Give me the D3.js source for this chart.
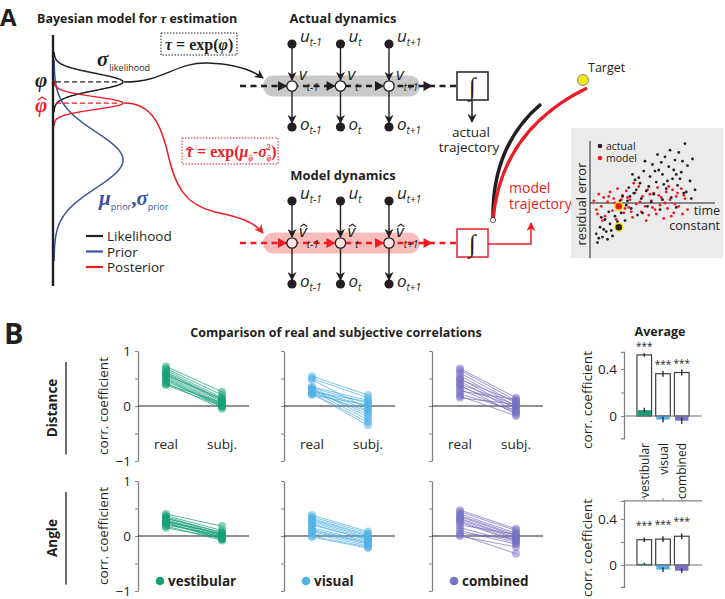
<!DOCTYPE html>
<meta charset="utf-8">
<script src="https://d3js.org/d3.v7.min.js"></script>
<style>
body { margin: 0; background: #fff; }
text { font-family: "Open Sans", sans-serif; fill: #231f20; white-space: pre; }
</style>
<svg id="fig" width="725" height="599"></svg>
<script>

// ---------------- data ----------------
var conditions = ["vestibular", "visual", "combined"];
var condColor = ["#17a078", "#4fb1e6", "#7870c2"];
var pairLabels = ["real", "subj."];

// panel B: per-subject correlation coefficients (real vs subjective)
var distRealVest = [0.72, 0.68, 0.65, 0.62, 0.60, 0.58, 0.56, 0.55, 0.52, 0.50, 0.48, 0.45, 0.42, 0.40, 0.38];
var distSubjVest = [0.26, 0.20, 0.15, 0.12, 0.10, 0.08, 0.13, 0.05, 0.03, 0.00, -0.02, 0.02, -0.05, 0.06, 0.00];
var distRealVis  = [0.54, 0.50, 0.48, 0.35, 0.33, 0.30, 0.28, 0.27, 0.25, 0.23, 0.22, 0.20, 0.30, 0.26, 0.32];
var distSubjVis  = [0.20, 0.15, -0.05, 0.10, 0.05, -0.15, 0.00, -0.25, -0.10, -0.30, -0.35, 0.02, -0.20, 0.08, -0.08];
var distRealComb = [0.68, 0.65, 0.60, 0.55, 0.50, 0.48, 0.45, 0.40, 0.38, 0.35, 0.30, 0.27, 0.22, 0.18, 0.15];
var distSubjComb = [0.15, 0.10, 0.05, 0.00, -0.05, 0.08, -0.10, 0.02, -0.15, -0.02, -0.12, 0.12, -0.08, -0.18, 0.03];
var angRealVest  = [0.40, 0.37, 0.35, 0.33, 0.30, 0.28, 0.27, 0.25, 0.22, 0.20, 0.18, 0.15, 0.32, 0.24, 0.26];
var angSubjVest  = [0.18, 0.10, 0.05, 0.02, 0.00, -0.03, 0.04, -0.05, -0.02, 0.01, -0.08, -0.04, 0.07, -0.06, 0.03];
var angRealVis   = [0.38, 0.35, 0.32, 0.30, 0.28, 0.25, 0.22, 0.15, 0.12, 0.08, 0.05, 0.00, -0.02, 0.20, 0.10];
var angSubjVis   = [0.08, 0.05, 0.02, 0.00, -0.03, -0.05, -0.08, -0.10, -0.12, -0.15, -0.18, -0.20, -0.22, -0.06, -0.13];
var angRealComb  = [0.47, 0.44, 0.40, 0.37, 0.35, 0.32, 0.30, 0.27, 0.25, 0.20, 0.15, 0.10, 0.05, 0.02, 0.00];
var angSubjComb  = [0.13, 0.10, 0.05, 0.02, 0.00, -0.03, -0.05, -0.08, -0.10, 0.03, -0.12, -0.15, -0.05, -0.32, -0.20];

// panel B: averages
var avgDistReal = [0.52, 0.36, 0.37];
var avgDistRealSE = [0.015, 0.025, 0.025];
var avgDistSubj = [0.05, -0.03, -0.04];
var avgDistSubjSE = [0.02, 0.025, 0.025];
var avgAngReal = [0.22, 0.225, 0.25];
var avgAngRealSE = [0.02, 0.025, 0.025];
var avgAngSubj = [0.01, -0.04, -0.05];
var avgAngSubjSE = [0.01, 0.02, 0.02];

// panel A inset: residual error vs time constant
var actualPts = [[0.5,-2.8],[0.6,-3.6],[0.8,-2.2],[1.0,-3.1],[1.2,-1.5],[1.3,-2.6],[1.5,-0.8],[1.6,-1.9],[1.8,-3.0],[2.0,-1.2],
  [2.1,-0.4],[2.3,-2.1],[2.5,-0.9],[2.6,0.6],[2.8,-1.6],[3.0,0.2],[3.1,1.4],[3.3,-0.5],[3.5,0.9],[3.6,2.1],[3.8,-1.1],[4.0,1.8],
  [4.1,0.4],[4.3,2.9],[4.5,1.1],[4.6,-0.3],[4.8,2.4],[5.0,3.5],[5.1,0.8],[5.3,1.9],[5.5,3.0],[5.6,-0.6],[5.8,2.6],[6.0,4.2],
  [6.1,1.3],[6.3,3.3],[6.5,0.5],[6.6,2.2],[6.8,3.9],[7.0,1.6],[7.1,4.6],[7.3,2.8],[7.5,0.9],[7.6,5.4],[7.8,3.4],[8.0,2.0],
  [8.2,4.0],[8.4,1.2],[3.4,2.6],[4.4,3.8],[5.4,4.4],[2.9,-0.2],[1.7,-2.5],[6.2,2.0],[6.9,-0.4],[7.7,1.0],[0.9,-1.3],[1.4,-3.3],
  [2.4,0.2],[3.7,1.2],[4.9,0.1],[5.9,1.7],[6.4,4.8],[7.2,2.2],[8.1,0.4],[4.2,-0.9],[5.7,3.7],[3.2,0.6],[5.2,2.9],[6.7,3.0],
  [4.7,1.5],[3.9,2.3],[7.4,3.8],[5.8,0.3],[6.9,2.6],[2.2,-1.7],[1.1,-2.4],[0.7,-3.2]];
var modelPts = [[0.3,0.2],[0.5,-0.6],[0.7,0.8],[0.9,-0.3],[1.1,0.5],[1.2,-1.2],[1.4,0.1],[1.6,1.0],[1.8,-0.7],[1.9,0.4],
  [2.1,-1.5],[2.2,1.3],[2.4,-0.2],[2.6,0.7],[2.7,-0.9],[2.9,1.1],[3.1,-0.4],[3.2,0.3],[3.4,-1.3],[3.6,0.9],[3.7,-0.1],[3.9,1.5],
  [4.1,-0.8],[4.2,0.6],[4.4,-0.3],[4.6,1.2],[4.7,-1.1],[4.9,0.2],[5.1,0.9],[5.2,-0.6],[5.4,1.4],[5.6,-0.2],[5.7,0.5],[5.9,-1.4],
  [6.1,1.0],[6.2,-0.5],[6.4,0.3],[6.6,1.2],[6.7,-0.9],[6.9,0.6],[7.1,-0.3],[7.3,1.3],[7.4,-1.0],[7.6,0.4],[7.8,-0.6],[1.0,-1.6],
  [2.0,0.0],[3.0,0.5],[4.0,0.1],[5.0,-0.4],[6.0,0.0],[7.0,0.9],[3.5,1.8],[4.5,-1.6],[5.5,0.7],[6.5,-1.2],[2.5,0.3],[0.6,-1.0],
  [1.5,0.6],[3.3,-0.8],[4.8,0.8],[5.3,-1.0],[6.8,-0.1],[7.5,0.7],[2.8,-0.5],[6.3,1.5]];
var highlightPts = [[2.3, -0.3, "model"], [2.3, -2.2, "actual"]];

// panel A: schematic densities over phi (mean, sd)
var densNames = ["Likelihood", "Prior", "Posterior"];
var densColor = ["#231f20", "#3a53a4", "#ed1c24"];
var densMean = [2.5, 0.0, 1.82];
var densSD = [0.27, 0.9, 0.2];
var steps = ["t-1", "t", "t+1"];

var RED = "#ed1c24", BLK = "#231f20";

// ---------------- helpers ----------------
var svg = d3.select("#fig");
var defs = svg.append("defs");
function marker(id, color) {
  defs.append("marker").attr("id", id)
    .attr("viewBox", "0 0 10 10").attr("refX", 9).attr("refY", 5)
    .attr("markerWidth", 9).attr("markerHeight", 9)
    .attr("markerUnits", "userSpaceOnUse").attr("orient", "auto")
    .append("path").attr("d", "M0,0 L10,5 L0,10 L3,5 Z").attr("fill", color);
}
marker("arK", BLK);
marker("arR", RED);

function hat(g, cx, ty, hw, color) {
  g.append("path").attr("d", "M" + (cx - hw) + "," + (ty + hw * 0.7) + " L" + cx + "," + ty + " L" + (cx + hw) + "," + (ty + hw * 0.7))
    .attr("fill", "none").attr("stroke", color || BLK).attr("stroke-width", hw > 2.5 ? 1.2 : 0.7);
}

// sequential pieces of text (for math labels)
function rich(g, x, y, pieces) {
  var cx = x;
  pieces.forEach(function(p) {
    var t = g.append("text").attr("x", cx + (p.dx || 0)).attr("y", y + (p.dy || 0))
      .attr("font-size", p.size).text(p.t)
      .style("fill", p.fill)
      .style("font-family", p.serif ? "'Liberation Serif', serif" : null)
      .style("font-style", p.italic ? "italic" : null)
      .style("font-weight", p.bold ? "bold" : null);
    var w = t.node().getComputedTextLength();
    if (p.hat) {
      hat(g, cx + (p.dx || 0) + w / 2 + (p.hatdx || 0), y + (p.dy || 0) - p.size * (p.hatUp || 0.72), Math.max(p.size * 0.2, 1.6), p.fill);
    }
    if (!p.noadvance) cx += w + (p.dx || 0);
  });
  return cx;
}

// ---------------- panel A ----------------
svg.append("text").attr("x", 0).attr("y", 26).attr("font-size", 24).attr("font-weight", "bold").text("A");
rich(svg, 37, 23, [
  {t: "Bayesian model for ", size: 12.5, bold: true},
  {t: "τ", size: 13, bold: true, italic: true, serif: true},
  {t: " estimation", size: 12.5, bold: true}
]);

var phiY = d3.scaleLinear().domain([-4, 4]).range([285, 35]);
var densX = d3.scaleLinear().domain([0, 1]).range([54, 123]);
var gA = svg.append("g");

densNames.forEach(function(n, i) {
  var m = densMean[i], s = densSD[i];
  var pts = d3.range(m - 3.6 * s, m + 3.6 * s, s / 25).map(function(p) {
    return [densX(Math.exp(-0.5 * Math.pow((p - m) / s, 2))), phiY(p)];
  });
  gA.append("path").attr("d", d3.line().curve(d3.curveBasis)(pts))
    .attr("fill", "none").attr("stroke", densColor[i]).attr("stroke-width", 1.5);
});
// dashed means
[0, 2].forEach(function(i) {
  gA.append("line").attr("x1", 56).attr("x2", densX(1) - 3)
    .attr("y1", phiY(densMean[i])).attr("y2", phiY(densMean[i]))
    .attr("stroke", densColor[i]).attr("stroke-width", 1.4).attr("stroke-dasharray", "5,3");
});
// vertical axis
gA.append("line").attr("x1", 53).attr("x2", 53).attr("y1", 35).attr("y2", 286)
  .attr("stroke", BLK).attr("stroke-width", 2.4);

// phi labels
svg.append("text").attr("x", 35).attr("y", phiY(densMean[0]) + 5).attr("font-size", 21)
  .style("font-family", "'Liberation Serif', serif").style("font-style", "italic").style("font-weight", "bold").text("φ");
rich(svg, 35, phiY(densMean[2]) + 9, [{t: "φ", size: 21, serif: true, italic: true, bold: true, fill: RED, hat: true, hatUp: 0.72, hatdx: 1}]);
rich(svg, 97, 66, [
  {t: "σ", size: 21, serif: true, italic: true, bold: true},
  {t: "likelihood", size: 9, dy: 5, dx: 1}
]);
rich(svg, 99, 205, [
  {t: "μ", size: 21, serif: true, italic: true, bold: true, fill: densColor[1]},
  {t: "prior", size: 9, dy: 5, fill: densColor[1]},
  {t: ",", size: 21, serif: true, bold: true, fill: densColor[1]},
  {t: "σ", size: 21, serif: true, italic: true, bold: true, fill: densColor[1]},
  {t: "prior", size: 9, dy: 5, fill: densColor[1]}
]);

// legend
var legY = d3.scalePoint().domain(densNames).range([236, 267]);
densNames.forEach(function(n, i) {
  svg.append("line").attr("x1", 86).attr("x2", 103).attr("y1", legY(n)).attr("y2", legY(n))
    .attr("stroke", densColor[i]).attr("stroke-width", 2.2);
  svg.append("text").attr("x", 107).attr("y", legY(n) + 5).attr("font-size", 13.5).text(n);
});

// equation boxes
svg.append("rect").attr("x", 161).attr("y", 33).attr("width", 76).attr("height", 22)
  .attr("fill", "none").attr("stroke", BLK).attr("stroke-width", 1).attr("stroke-dasharray", "1.5,1.5");
rich(svg, 165, 50, [
  {t: "τ", size: 16, serif: true, italic: true, bold: true},
  {t: " = exp(", size: 16, serif: true, bold: true},
  {t: "φ", size: 16, serif: true, italic: true, bold: true},
  {t: ")", size: 16, serif: true, bold: true}
]);
svg.append("rect").attr("x", 182).attr("y", 138).attr("width", 96).attr("height", 26)
  .attr("fill", "none").attr("stroke", RED).attr("stroke-width", 1).attr("stroke-dasharray", "1.5,1.5");
rich(svg, 186, 157, [
  {t: "τ", size: 16, serif: true, italic: true, bold: true, fill: RED, hat: true, hatUp: 0.62},
  {t: " = exp(", size: 16, serif: true, bold: true, fill: RED},
  {t: "μ", size: 16, serif: true, italic: true, bold: true, fill: RED},
  {t: "φ", size: 7.5, serif: true, italic: true, bold: true, fill: RED, dy: 4, hat: true, hatUp: 0.8},
  {t: "-", size: 16, serif: true, bold: true, fill: RED},
  {t: "σ", size: 16, serif: true, italic: true, bold: true, fill: RED},
  {t: "2", size: 7.5, serif: true, bold: true, fill: RED, dy: -7, noadvance: true},
  {t: "φ", size: 7.5, serif: true, italic: true, bold: true, fill: RED, dy: 4, hat: true, hatUp: 0.8},
  {t: ")", size: 16, serif: true, bold: true, fill: RED}
]);

// connecting curves from densities to dynamics
svg.append("path").attr("d", "M124,82 C165,82 175,62 208,63 C235,64 252,70 263,78")
  .attr("fill", "none").attr("stroke", BLK).attr("stroke-width", 1.5).attr("marker-end", "url(#arK)");
svg.append("path").attr("d", "M124,103 C150,103 160,122 167,150 C175,188 186,205 215,212 C240,217 254,222 263,233")
  .attr("fill", "none").attr("stroke", RED).attr("stroke-width", 1.5).attr("marker-end", "url(#arR)");

// dynamics chains
var stepX = d3.scalePoint().domain(steps).range([292, 389]);
var stepW = stepX.step();

function chain(yNode, color, band, hatted, title) {
  var g = svg.append("g");
  g.append("text").attr("x", 343).attr("y", yNode - 63).attr("text-anchor", "middle")
    .attr("font-size", 13).attr("font-weight", "bold").text(title);
  g.append("rect").attr("x", 263).attr("y", yNode - 10.5).attr("width", 157).attr("height", 21)
    .attr("rx", 10.5).attr("fill", band);
  g.append("line").attr("x1", 240).attr("x2", 457).attr("y1", yNode).attr("y2", yNode)
    .attr("stroke", color).attr("stroke-width", 2.6).attr("stroke-dasharray", "6,4.5");
  var tips = steps.map(stepX).concat([stepX(steps[2]) + stepW]);
  tips.forEach(function(x) {
    var t = x - 5;
    g.append("path").attr("d", "M" + (t - 9) + "," + (yNode - 5) + " L" + t + "," + yNode + " L" + (t - 9) + "," + (yNode + 5) + " Z")
      .attr("fill", color);
  });
  steps.forEach(function(s) {
    var x = stepX(s);
    g.append("line").attr("x1", x).attr("x2", x).attr("y1", yNode - 38).attr("y2", yNode - 6)
      .attr("stroke", BLK).attr("stroke-width", 1.4).attr("marker-end", "url(#arK)");
    g.append("line").attr("x1", x).attr("x2", x).attr("y1", yNode + 5).attr("y2", yNode + 37)
      .attr("stroke", BLK).attr("stroke-width", 1.4).attr("marker-end", "url(#arK)");
    g.append("circle").attr("cx", x).attr("cy", yNode - 42).attr("r", 4.6).attr("fill", BLK);
    g.append("circle").attr("cx", x).attr("cy", yNode + 41).attr("r", 4.6).attr("fill", BLK);
    g.append("circle").attr("cx", x).attr("cy", yNode).attr("r", 5.2)
      .attr("fill", hatted ? "#fbe3e3" : "#fff").attr("stroke", BLK).attr("stroke-width", 1.3);
    rich(g, x + 8, yNode - 44, [{t: "u", size: 17, italic: true}, {t: s, size: 10, italic: true, dy: 4}]);
    rich(g, x + 7, yNode - 6, [{t: "v", size: 17, italic: true, hat: hatted, hatUp: 0.75, hatdx: 1}, {t: s, size: 10, italic: true, dy: 11}]);
    rich(g, x + 8, yNode + 44, [{t: "o", size: 17, italic: true}, {t: s, size: 10, italic: true, dy: 4}]);
  });
  g.append("rect").attr("x", 457).attr("y", yNode - 14).attr("width", 31).attr("height", 28)
    .attr("fill", "#fff").attr("stroke", color).attr("stroke-width", 1.5);
  g.append("text").attr("x", 472.5).attr("y", yNode + 9).attr("text-anchor", "middle")
    .attr("font-size", 25).style("font-family", "'Liberation Serif', serif").text("∫");
}
chain(86, BLK, "#c9c9c9", false, "Actual dynamics");
chain(243, RED, "#f8bdbb", true, "Model dynamics");

// outputs of integrators
svg.append("line").attr("x1", 472).attr("x2", 472).attr("y1", 100).attr("y2", 122)
  .attr("stroke", BLK).attr("stroke-width", 1.5).attr("marker-end", "url(#arK)");
svg.append("text").attr("x", 471).attr("y", 137).attr("text-anchor", "middle").attr("font-size", 13.5).text("actual");
svg.append("text").attr("x", 469).attr("y", 152).attr("text-anchor", "middle").attr("font-size", 13.5).text("trajectory");
svg.append("path").attr("d", "M488,244 L531,244 L531,223").attr("fill", "none")
  .attr("stroke", RED).attr("stroke-width", 1.5).attr("marker-end", "url(#arR)");

// trajectories
svg.append("path").attr("d", "M493,220 C492,170 508,132 541,104").attr("fill", "none")
  .attr("stroke", BLK).attr("stroke-width", 3.5);
svg.append("path").attr("d", "M493,220 C499,152 538,112 587,88").attr("fill", "none")
  .attr("stroke", RED).attr("stroke-width", 3.2);
svg.append("circle").attr("cx", 493).attr("cy", 220).attr("r", 2.6).attr("fill", "#fff")
  .attr("stroke", BLK).attr("stroke-width", 0.8);
svg.append("circle").attr("cx", 583).attr("cy", 80).attr("r", 5.5).attr("fill", "#f7e51b")
  .attr("stroke", "#6d6e71").attr("stroke-width", 0.8);
svg.append("text").attr("x", 588).attr("y", 72).attr("font-size", 12.5).text("Target");
svg.append("text").attr("x", 509).attr("y", 193).attr("font-size", 14).style("fill", RED).text("model");
svg.append("text").attr("x", 509).attr("y", 209).attr("font-size", 14).style("fill", RED).text("trajectory");

// inset scatter
var gI = svg.append("g");
gI.append("rect").attr("x", 571).attr("y", 128).attr("width", 152).attr("height", 130).attr("fill", "#ebebeb");
var sx = d3.scaleLinear().domain([0, 10]).range([590, 715]);
var sy = d3.scaleLinear().domain([-5, 5]).range([258, 148]);
gI.append("line").attr("x1", 590).attr("x2", 590).attr("y1", 141).attr("y2", 258).attr("stroke", BLK).attr("stroke-width", 1);
gI.append("line").attr("x1", 590).attr("x2", 715).attr("y1", sy(0)).attr("y2", sy(0)).attr("stroke", BLK).attr("stroke-width", 1);
gI.selectAll(".pm").data(modelPts).enter().append("circle")
  .attr("cx", function(d) { return sx(d[0]); }).attr("cy", function(d) { return sy(d[1]); })
  .attr("r", 1.4).attr("fill", RED);
gI.selectAll(".pa").data(actualPts).enter().append("circle")
  .attr("cx", function(d) { return sx(d[0]); }).attr("cy", function(d) { return sy(d[1]); })
  .attr("r", 1.4).attr("fill", BLK);
gI.selectAll(".ph").data(highlightPts).enter().append("circle")
  .attr("cx", function(d) { return sx(d[0]); }).attr("cy", function(d) { return sy(d[1]); })
  .attr("r", 4).attr("fill", function(d) { return d[2] == "model" ? RED : BLK; })
  .attr("stroke", "#f7e51b").attr("stroke-width", 1.5);
gI.append("text").attr("transform", "translate(586,204) rotate(-90)").attr("text-anchor", "middle")
  .attr("font-size", 13).text("residual error");
gI.append("text").attr("x", 720).attr("y", 215).attr("text-anchor", "end").attr("font-size", 12.5).text("time");
gI.append("text").attr("x", 720).attr("y", 230).attr("text-anchor", "end").attr("font-size", 12.5).text("constant");
[["actual", BLK, 146], ["model", RED, 158]].forEach(function(l) {
  gI.append("circle").attr("cx", 600).attr("cy", l[2]).attr("r", 2.3).attr("fill", l[1]);
  gI.append("text").attr("x", 606).attr("y", l[2] + 3.5).attr("font-size", 10.5).text(l[0]);
});

// ---------------- panel B ----------------
svg.append("text").attr("x", 4).attr("y", 344).attr("font-size", 29).attr("font-weight", "bold").text("B");
svg.append("text").attr("x", 336).attr("y", 337).attr("text-anchor", "middle").attr("font-size", 12.5)
  .attr("font-weight", "bold").text("Comparison of real and subjective correlations");

var rows = [
  {name: "Distance", yr: [461, 351], real: [distRealVest, distRealVis, distRealComb], subj: [distSubjVest, distSubjVis, distSubjComb]},
  {name: "Angle", yr: [591, 481], real: [angRealVest, angRealVis, angRealComb], subj: [angSubjVest, angSubjVis, angSubjComb]}
];
var colX = [138, 284, 432];
var px = d3.scalePoint().domain(pairLabels).range([28, 84]);

rows.forEach(function(row, ri) {
  var y = d3.scaleLinear().domain([-1, 1]).range(row.yr);
  var yMid = y(0);
  svg.append("text").attr("transform", "translate(57," + (yMid + 2) + ") rotate(-90)")
    .attr("text-anchor", "middle").attr("font-size", 13.5).attr("font-weight", "bold").text(row.name);
  svg.append("line").attr("x1", 66).attr("x2", 66).attr("y1", y(0.8)).attr("y2", y(-0.88))
    .attr("stroke", BLK).attr("stroke-width", 1.3);
  svg.append("text").attr("transform", "translate(108," + yMid + ") rotate(-90)")
    .attr("text-anchor", "middle").attr("font-size", 13.5).text("corr. coefficient");

  conditions.forEach(function(c, ci) {
    var g = svg.append("g").attr("transform", "translate(" + colX[ci] + ",0)");
    var ax = g.append("g").call(d3.axisLeft(y).tickValues([-1, -0.5, 0, 0.5, 1]).tickSize(3).tickSizeOuter(0)
      .tickFormat(function(d) { return (ci == 0 && d % 1 == 0) ? d3.format("d")(d) : ""; }));
    ax.select(".domain").attr("stroke", "#808285").attr("stroke-width", 1.3);
    ax.selectAll(".tick line").attr("stroke", "#808285");
    ax.selectAll(".tick text").attr("font-size", 13.5).attr("font-family", "'Open Sans', sans-serif")
      .attr("fill", BLK).attr("x", -7);
    g.append("line").attr("x1", 0).attr("x2", 111).attr("y1", yMid).attr("y2", yMid)
      .attr("stroke", BLK).attr("stroke-width", 1);
    var pairs = row.real[ci].map(function(r, k) { return [r, row.subj[ci][k]]; });
    g.selectAll(".pl").data(pairs).enter().append("line")
      .attr("x1", px("real")).attr("x2", px("subj."))
      .attr("y1", function(d) { return y(d[0]); }).attr("y2", function(d) { return y(d[1]); })
      .attr("stroke", condColor[ci]).attr("stroke-width", 0.8).attr("opacity", 0.9);
    pairLabels.forEach(function(pl, pi) {
      g.selectAll(".pt" + pi).data(pairs).enter().append("circle")
        .attr("cx", px(pl)).attr("cy", function(d) { return y(d[pi]); })
        .attr("r", 4).attr("fill", condColor[ci]).attr("fill-opacity", 0.5);
    });
    if (ri == 0) {
      pairLabels.forEach(function(pl) {
        g.append("text").attr("x", px(pl)).attr("y", 449).attr("text-anchor", "middle")
          .attr("font-size", 13.5).text(pl);
      });
    } else {
      g.append("circle").attr("cx", 22).attr("cy", 581).attr("r", 4.3).attr("fill", condColor[ci]);
      g.append("text").attr("x", 30).attr("y", 586).attr("font-size", 13.5).attr("font-weight", "bold").text(c);
    }
  });
});

// average bars
svg.append("text").attr("x", 660).attr("y", 336).attr("text-anchor", "middle").attr("font-size", 12.5)
  .attr("font-weight", "bold").text("Average");
var xBar = d3.scaleBand().domain(conditions).range([636, 690]).paddingInner(0.22).paddingOuter(0.05);
var avgSets = [
  {y0: 416, k: 117.5, real: avgDistReal, rse: avgDistRealSE, subj: avgDistSubj, sse: avgDistSubjSE, top: 0.545, labels: true},
  {y0: 565, k: 115, real: avgAngReal, rse: avgAngRealSE, subj: avgAngSubj, sse: avgAngSubjSE, top: 0.557, labels: false}
];
avgSets.forEach(function(a, ai) {
  var y = d3.scaleLinear().domain([-0.19, a.top]).range([a.y0 + 0.19 * a.k, a.y0 - a.top * a.k]);
  var g = svg.append("g");
  var ax = g.append("g").attr("transform", "translate(624,0)")
    .call(d3.axisLeft(y).tickValues([0, 0.2, 0.4]).tickSize(3).tickSizeOuter(3)
      .tickFormat(function(d) { return d == 0.2 ? "" : d; }));
  ax.select(".domain").attr("stroke", "#808285").attr("stroke-width", 1.3);
  ax.selectAll(".tick line").attr("stroke", "#808285");
  ax.selectAll(".tick text").attr("font-size", 13.5).attr("font-family", "'Open Sans', sans-serif")
    .attr("fill", BLK).attr("x", -7);
  g.append("text").attr("transform", "translate(592," + (ai == 0 ? 400 : 548) + ") rotate(-90)")
    .attr("text-anchor", "middle").attr("font-size", 13.5).text("corr. coefficient");
  if (ai == 1) {
    g.append("line").attr("x1", 624).attr("x2", 702).attr("y1", y(a.top)).attr("y2", y(a.top))
      .attr("stroke", "#808285").attr("stroke-width", 1.3);
    conditions.forEach(function(c) {
      g.append("line").attr("x1", xBar(c) + xBar.bandwidth() / 2).attr("x2", xBar(c) + xBar.bandwidth() / 2)
        .attr("y1", y(a.top)).attr("y2", y(a.top) - 3).attr("stroke", "#808285");
    });
  }
  conditions.forEach(function(c, ci) {
    var bx = xBar(c), bw = xBar.bandwidth(), cx = bx + bw / 2;
    g.append("rect").attr("x", bx).attr("width", bw)
      .attr("y", y(a.real[ci])).attr("height", y(0) - y(a.real[ci]))
      .attr("fill", "#fff").attr("stroke", "#414042").attr("stroke-width", 1.2);
    var s = a.subj[ci];
    g.append("rect").attr("x", bx + 0.6).attr("width", bw - 1.2)
      .attr("y", y(Math.max(s, 0))).attr("height", Math.abs(y(s) - y(0)))
      .attr("fill", condColor[ci]);
    g.append("line").attr("x1", cx).attr("x2", cx)
      .attr("y1", y(a.real[ci] - a.rse[ci])).attr("y2", y(a.real[ci] + a.rse[ci]))
      .attr("stroke", BLK).attr("stroke-width", 1.3);
    g.append("line").attr("x1", cx).attr("x2", cx)
      .attr("y1", y(s - a.sse[ci])).attr("y2", y(s + a.sse[ci]))
      .attr("stroke", BLK).attr("stroke-width", 1.3);
    g.append("text").attr("x", cx).attr("y", y(a.real[ci] + a.rse[ci]) - (ai == 0 ? 3 : 8))
      .attr("text-anchor", "middle").attr("font-size", 10).text("***");
    if (a.labels) {
      g.append("text").attr("transform", "translate(" + (cx + 4.5) + ",443) rotate(-90)")
        .attr("text-anchor", "end").attr("font-size", 12).text(c);
    }
  });
  g.append("line").attr("x1", 624).attr("x2", 702).attr("y1", y(0)).attr("y2", y(0))
    .attr("stroke", "#6d6e71").attr("stroke-width", 1.1);
});
</script>
